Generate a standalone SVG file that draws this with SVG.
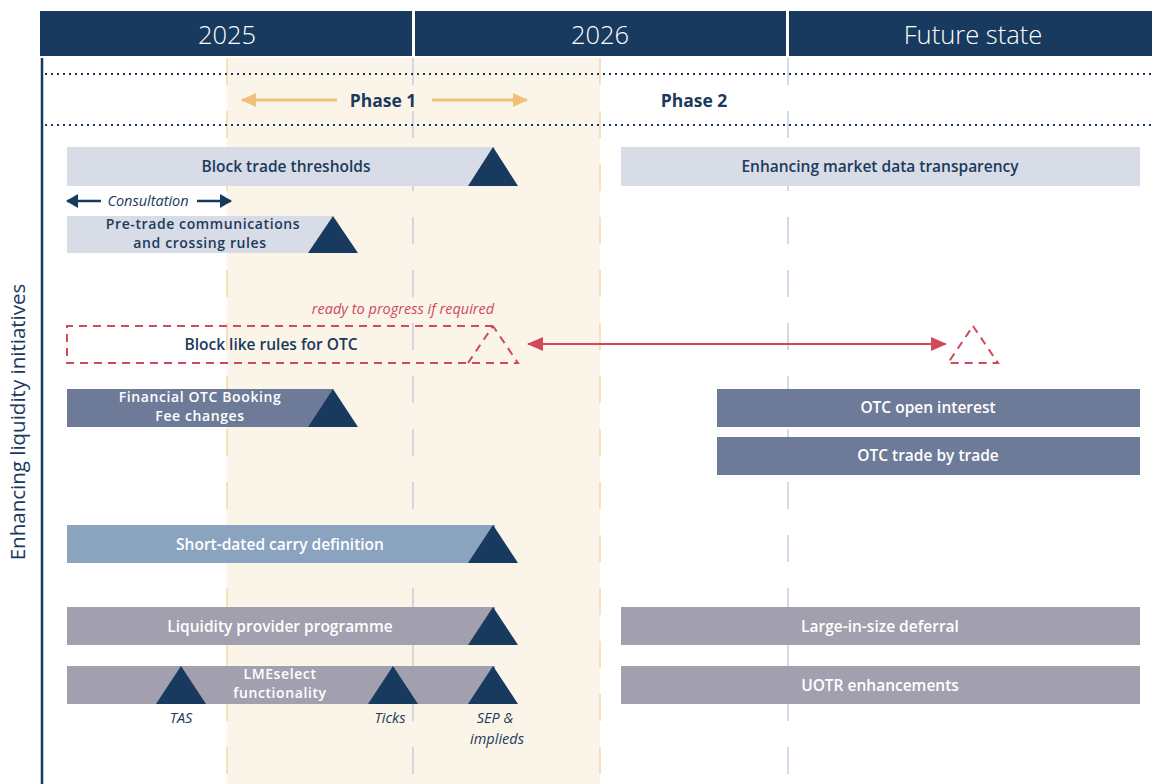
<svg xmlns="http://www.w3.org/2000/svg" width="1152" height="784" viewBox="0 0 1152 784">
<style>
.hdr{fill:#173a5e}
.htxt{font-family:"Open Sans","Liberation Sans",sans-serif;font-weight:300;font-size:25.5px;fill:#ffffff;text-anchor:middle}
.lbl{font-family:"Open Sans","Liberation Sans",sans-serif;font-weight:600;font-size:15.5px;text-anchor:middle}
.two{font-size:14px;letter-spacing:0.6px}
.ph{font-family:"Open Sans","Liberation Sans",sans-serif;font-weight:700;font-size:17.5px;text-anchor:middle;fill:#1b3a5c}
.dk{fill:#1b3a5c}
.wt{fill:#ffffff}
.it{font-family:"Open Sans","Liberation Sans",sans-serif;font-style:italic;font-size:14.5px;text-anchor:middle;fill:#1b3a5c}
.tri{fill:#173a5e}
.light{fill:#d8dce6}
.slate{fill:#6d7b99}
.blue{fill:#8aa3bf}
.mauve{fill:#a29fae}
.dots{stroke:#173a5e;stroke-width:2;stroke-dasharray:2 4;fill:none}
.grid{stroke-width:1.5;stroke-dasharray:27 26;fill:none}
.red{stroke:#d04a5a;stroke-width:2;fill:none}
.reddash{stroke:#d04a5a;stroke-width:2;stroke-dasharray:8 6;fill:none}
</style>
<defs>
<marker id="gold" markerUnits="userSpaceOnUse" markerWidth="16" markerHeight="16" refX="14" refY="8" orient="auto-start-reverse" viewBox="0 0 16 16"><path d="M0,1 L15,8 L0,15 Z" fill="#eec07a"/></marker>
<marker id="navy" markerUnits="userSpaceOnUse" markerWidth="12" markerHeight="14" refX="11" refY="7" orient="auto-start-reverse" viewBox="0 0 12 14"><path d="M0,0 L12,7 L0,14 Z" fill="#173a5e"/></marker>
<marker id="redh" markerUnits="userSpaceOnUse" markerWidth="16" markerHeight="16" refX="15" refY="8" orient="auto-start-reverse" viewBox="0 0 16 16"><path d="M0,1 L16,8 L0,15 Z" fill="#d04a5a"/></marker>
</defs>
<rect width="1152" height="784" fill="#ffffff"/>
<g id="phase1-band"><rect x="227" y="58" width="373" height="726" fill="#faf5e8"/></g>
<g id="grid">
<line x1="227" y1="58" x2="227" y2="784" class="grid" stroke="#f3d9a8"/>
<line x1="600" y1="58" x2="600" y2="784" class="grid" stroke="#f3d9a8"/>
<line x1="413" y1="58" x2="413" y2="784" class="grid" stroke="#c8ccd4"/>
<line x1="788" y1="58" x2="788" y2="784" class="grid" stroke="#c5cde0"/>
<line x1="45" y1="74" x2="1152" y2="74" class="dots"/>
<line x1="45" y1="125" x2="1152" y2="125" class="dots"/>
<line x1="42" y1="58" x2="42" y2="784" stroke="#173a5e" stroke-width="2.5"/>
</g>
<g id="header">
<rect x="40" y="11" width="372" height="45" class="hdr"/>
<rect x="415" y="11" width="371" height="45" class="hdr"/>
<rect x="789" y="11" width="363" height="45" class="hdr"/>
<text x="227" y="44" class="htxt">2025</text>
<text x="600" y="44" class="htxt">2026</text>
<text x="973" y="44" class="htxt">Future state</text>
</g>
<g id="title"><text transform="translate(25,422) rotate(-90)" font-family="'Open Sans','Liberation Sans',sans-serif" font-size="20.5" fill="#173a5e" text-anchor="middle">Enhancing liquidity initiatives</text></g>
<g id="phases">
<text x="383" y="107" class="ph">Phase 1</text>
<text x="694" y="107" class="ph">Phase 2</text>
</g>
<g id="connectors">
<line x1="337" y1="100" x2="242" y2="100" stroke="#eec07a" stroke-width="3" marker-end="url(#gold)"/>
<line x1="432" y1="100" x2="527" y2="100" stroke="#eec07a" stroke-width="3" marker-end="url(#gold)"/>
<line x1="101" y1="201" x2="67" y2="201" stroke="#173a5e" stroke-width="2.5" marker-end="url(#navy)"/>
<line x1="197" y1="201" x2="231" y2="201" stroke="#173a5e" stroke-width="2.5" marker-end="url(#navy)"/>
<line x1="528" y1="344" x2="946" y2="344" class="red" marker-start="url(#redh)" marker-end="url(#redh)"/>
</g>
<g id="consultation"><text x="148" y="206" class="it">Consultation</text></g>
<g id="block-trade">
<rect x="67" y="147" width="428" height="39" class="light"/>
<polygon points="493,147 518,186 468,186" class="tri"/>
<text x="286" y="172" class="lbl dk">Block trade thresholds</text>
</g>
<g id="market-data">
<rect x="621" y="147" width="519" height="39" class="light"/>
<text x="880" y="172" class="lbl dk">Enhancing market data transparency</text>
</g>
<g id="pre-trade">
<rect x="67" y="216" width="266" height="37" class="light"/>
<polygon points="333,216 358,253 308,253" class="tri"/>
<text x="203" y="228.5" class="lbl two dk">Pre-trade communications</text>
<text x="200" y="248" class="lbl two dk">and crossing rules</text>
</g>
<g id="block-otc">
<text x="403" y="314" class="it" style="fill:#d04a5a">ready to progress if required</text>
<path d="M493,326 H67 V363 H518 L493,326 M468,363 L493,326" class="reddash"/>
<text x="271" y="350" class="lbl dk">Block like rules for OTC</text>
<path d="M973,326 L998,363 H948 Z" class="reddash"/>
</g>
<g id="fee-changes">
<rect x="67" y="389" width="266" height="38" class="slate"/>
<polygon points="333,389 358,427 308,427" class="tri"/>
<text x="200" y="401.5" class="lbl two wt">Financial OTC Booking</text>
<text x="200" y="421" class="lbl two wt">Fee changes</text>
</g>
<g id="otc-oi">
<rect x="717" y="389" width="423" height="38" class="slate"/>
<text x="928" y="413" class="lbl wt">OTC open interest</text>
</g>
<g id="otc-tbt">
<rect x="717" y="437" width="423" height="38" class="slate"/>
<text x="928" y="461" class="lbl wt">OTC trade by trade</text>
</g>
<g id="short-dated">
<rect x="67" y="525" width="428" height="38" class="blue"/>
<polygon points="493,525 518,563 468,563" class="tri"/>
<text x="280" y="550" class="lbl wt">Short-dated carry definition</text>
</g>
<g id="lpp">
<rect x="67" y="607" width="428" height="38" class="mauve"/>
<polygon points="493,607 518,645 468,645" class="tri"/>
<text x="280" y="632" class="lbl wt">Liquidity provider programme</text>
</g>
<g id="lis">
<rect x="621" y="607" width="519" height="38" class="mauve"/>
<text x="880" y="632" class="lbl wt">Large-in-size deferral</text>
</g>
<g id="lmeselect">
<rect x="67" y="666" width="428" height="38" class="mauve"/>
<polygon points="181,666 206,704 156,704" class="tri"/>
<polygon points="393,666 418,704 368,704" class="tri"/>
<polygon points="493,666 518,704 468,704" class="tri"/>
<text x="280" y="678.5" class="lbl two wt">LMEselect</text>
<text x="280" y="698" class="lbl two wt">functionality</text>
<text x="181" y="723" class="it">TAS</text>
<text x="390" y="723" class="it">Ticks</text>
<text x="495" y="723" class="it">SEP &amp;</text>
<text x="497" y="744" class="it">implieds</text>
</g>
<g id="uotr">
<rect x="621" y="666" width="519" height="38" class="mauve"/>
<text x="880" y="691" class="lbl wt">UOTR enhancements</text>
</g>
</svg>
